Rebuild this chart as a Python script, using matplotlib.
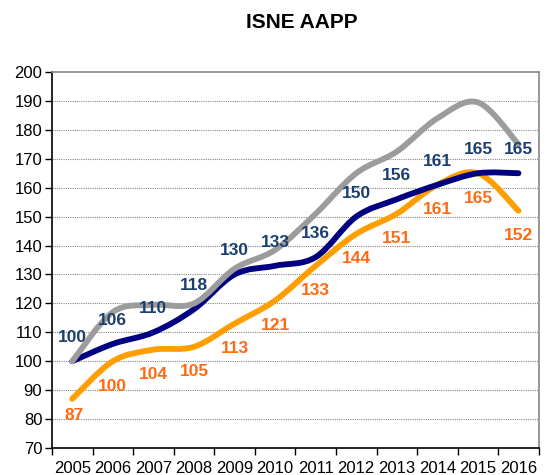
import numpy as np
import matplotlib.pyplot as plt
from matplotlib.path import Path
from matplotlib.patches import PathPatch

plt.rcParams['font.family'] = ['Liberation Sans', 'DejaVu Sans']

years = ['2005', '2006', '2007', '2008', '2009', '2010',
         '2011', '2012', '2013', '2014', '2015', '2016']
navy = [100, 106, 110, 118, 130, 133, 136, 150, 156, 161, 165, 165]
orange = [87, 100, 104, 105, 113, 121, 133, 144, 151, 161, 165, 152]
gray = [100, 117, 119.5, 120, 132, 138.5, 151, 165, 172.5, 184, 189.5, 175]


def smooth_path(xs, ys):
    # excel-like smoothed line: cubic bezier through every point
    pts = np.column_stack([xs, ys]).astype(float)
    ext = np.vstack([pts[0], pts, pts[-1]])
    verts = [pts[0]]
    codes = [Path.MOVETO]
    for i in range(len(pts) - 1):
        p0, p1, p2, p3 = ext[i], ext[i + 1], ext[i + 2], ext[i + 3]
        verts += [p1 + (p2 - p0) / 6, p2 - (p3 - p1) / 6, p2]
        codes += [Path.CURVE4] * 3
    return Path(verts, codes)


fig = plt.figure(figsize=(5.46, 4.75), dpi=100)
ax = fig.add_axes([0.0952, 0.0568, 0.8916, 0.7916])

x = np.arange(len(years))
for vals, col, z in [(orange, '#FF9E00', 2), (navy, '#000080', 3), (gray, '#9C9C9C', 4)]:
    ax.add_patch(PathPatch(smooth_path(x, vals), fill=False, edgecolor=col,
                           lw=4.2, capstyle='round', joinstyle='round', zorder=z))

for xi, v in zip(x, navy):
    ax.annotate(str(v), (xi, v), xytext=(0, 17), textcoords='offset points',
                ha='center', va='center', fontsize=12.5, fontweight='bold',
                color='#1B3F6E', zorder=6)
for i, (xi, v) in enumerate(zip(x, orange)):
    dy = -12 if i == 0 else -18
    ax.annotate(str(v), (xi, v), xytext=(1 if i == 0 else 0, dy), textcoords='offset points',
                ha='center', va='center', fontsize=12.5, fontweight='bold',
                color='#FF6A13', zorder=6)

ax.set_xlim(-0.5, len(years) - 0.5)
ax.set_ylim(70, 200)
ax.set_yticks(range(70, 201, 10))
ax.set_xticks(x)
ax.set_xticklabels(years)
ax.set_xticks(np.arange(-0.5, len(years), 1), minor=True)
ax.tick_params(axis='x', which='major', length=0, pad=9, labelsize=12)
ax.tick_params(axis='x', which='minor', length=5, direction='out', width=1)
ax.tick_params(axis='y', length=5, direction='out', width=1, labelsize=12, pad=2)

for yv in range(80, 200, 10):
    ax.axhline(yv, color='#888888', lw=0.8, ls=(0, (1, 1)), zorder=1)

ax.spines['left'].set_color('black')
ax.spines['bottom'].set_color('black')
ax.spines['top'].set_color('#888888')
ax.spines['right'].set_color('#888888')
for s in ax.spines.values():
    s.set_linewidth(1.2)

fig.text(0.552, 0.952, 'ISNE AAPP', ha='center', va='center',
         fontsize=15, fontweight='bold')

fig.savefig('out.png', dpi=100)
